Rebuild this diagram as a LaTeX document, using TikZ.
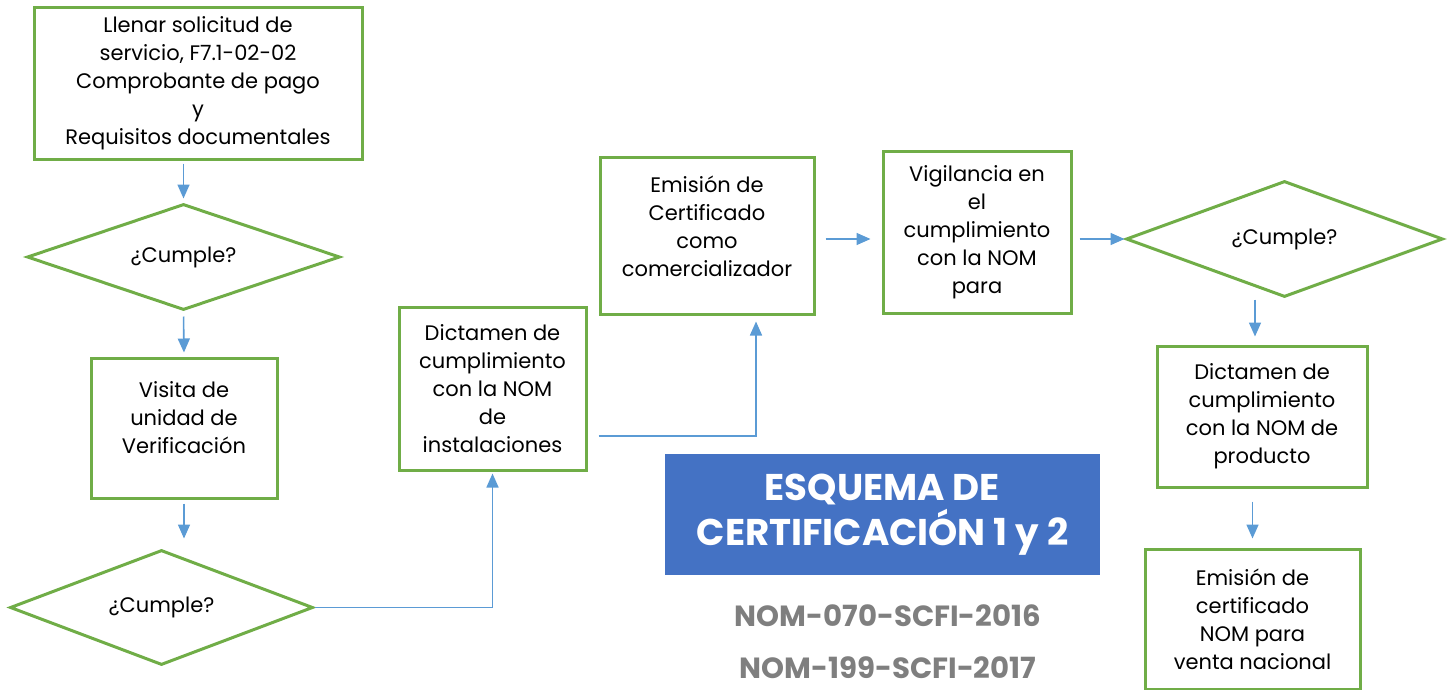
\documentclass[tikz,border=0pt]{standalone}
\usepackage{fontspec}
\setmainfont{Poppins}
\usetikzlibrary{shapes.geometric,arrows.meta}
\definecolor{boxgreen}{HTML}{70AD47}
\definecolor{lineblue}{HTML}{5B9BD5}
\definecolor{bannerblue}{HTML}{4472C4}
\definecolor{nomgray}{HTML}{7F7F7F}
\tikzset{
  paso/.style={draw=boxgreen, line width=1.5pt, align=center, inner sep=0pt,
    font=\fontsize{10.5}{14}\selectfont},
  decide/.style={diamond, aspect=3, draw=boxgreen, line width=1.5pt, inner sep=0pt,
    font=\fontsize{10.5}{14}\selectfont},
  flecha/.style={draw=lineblue, line width=0.8pt, -{Triangle[width=6pt,length=7pt]}},
  nomtxt/.style={text=nomgray, font=\bfseries\fontsize{14.6}{17}\selectfont},
}

\begin{document}
\begin{tikzpicture}[x=0.5pt,y=-0.5pt]
\useasboundingbox (0,0) rectangle (1450,690);
%
\node[paso, minimum width=164pt, minimum height=75.5pt] (solic) at (198,83.5)
  {Llenar solicitud de\\ servicio, F7.1-02-02\\ Comprobante de pago\\ y\\ Requisitos documentales};
\node[decide, minimum width=156.5pt, minimum height=53pt] (cumpleA) at (183.5,257) {¿Cumple?};
\node[paso, minimum width=93pt, minimum height=70pt, text depth=10pt] (visita) at (184,428)
  {Visita de\\ unidad de\\ Verificación};
\node[decide, minimum width=151.5pt, minimum height=57.5pt] (cumpleB) at (161.5,607.5) {¿Cumple?};
%
\node[paso, minimum width=93.5pt, minimum height=81.5pt] (dictInst) at (492.5,388.5)
  {Dictamen de\\ cumplimiento\\ con la NOM\\ de\\ instalaciones};
\node[paso, minimum width=107pt, minimum height=78.5pt, text depth=9pt] (emisCom) at (707,235.5)
  {Emisión de\\ Certificado\\ como\\ comercializador};
\node[paso, minimum width=94pt, minimum height=81pt] (vigil) at (977,232)
  {Vigilancia en\\ el\\ cumplimiento\\ con la NOM\\ para};
\node[decide, minimum width=158.5pt, minimum height=58pt] (cumpleC) at (1284.5,239) {¿Cumple?};
\node[paso, minimum width=105pt, minimum height=70.5pt] (dictProd) at (1262,416.5)
  {Dictamen de\\ cumplimiento\\ con la NOM de\\ producto};
\node[paso, minimum width=107.5pt, minimum height=70pt] (emisNac) at (1252.5,619)
  {Emisión de\\ certificado\\ NOM para\\ venta nacional};
%
\node[fill=bannerblue, text=white, align=center, minimum width=217.5pt, minimum height=60.5pt,
  inner sep=0pt, font=\bfseries\fontsize{18.6}{22.5}\selectfont] (titulo) at (882.5,514.5)
  {ESQUEMA DE\\ CERTIFICACIÓN 1 y 2};
\node[nomtxt] (nomA) at (888,616) {NOM-070-SCFI-2016};
\node[nomtxt] (nomB) at (888,668) {NOM-199-SCFI-2017};
%
\draw[flecha, shorten <=1.5pt, shorten >=2pt] (solic.south -| cumpleA.north) -- (cumpleA.north);
\draw[flecha, shorten <=2.5pt, shorten >=2pt] (cumpleA.south) -- (visita.north);
\draw[flecha, shorten <=2pt, shorten >=5pt] (visita.south) -- (visita.south |- cumpleB.north);
\draw[flecha, shorten >=1pt] (cumpleB.east) -| (dictInst.south);
\draw[flecha, shorten <=5.5pt, shorten >=3pt] ([yshift=-23.75pt]dictInst.east) -| ([xshift=24.5pt]emisCom.south);
\draw[flecha, shorten <=5pt, shorten >=5.5pt] (emisCom.east |- cumpleC.west) -- (vigil.west |- cumpleC.west);
\draw[flecha, shorten <=3.5pt] (vigil.east |- cumpleC.west) -- (cumpleC.west);
\draw[flecha, shorten <=0.5pt, shorten >=4pt] ([xshift=-3.5pt]dictProd.north |- cumpleC.south) -- ([xshift=-3.5pt]dictProd.north);
\draw[flecha, shorten <=6.5pt, shorten >=4.5pt] (emisNac.north |- dictProd.south) -- (emisNac.north);
\end{tikzpicture}
\end{document}
